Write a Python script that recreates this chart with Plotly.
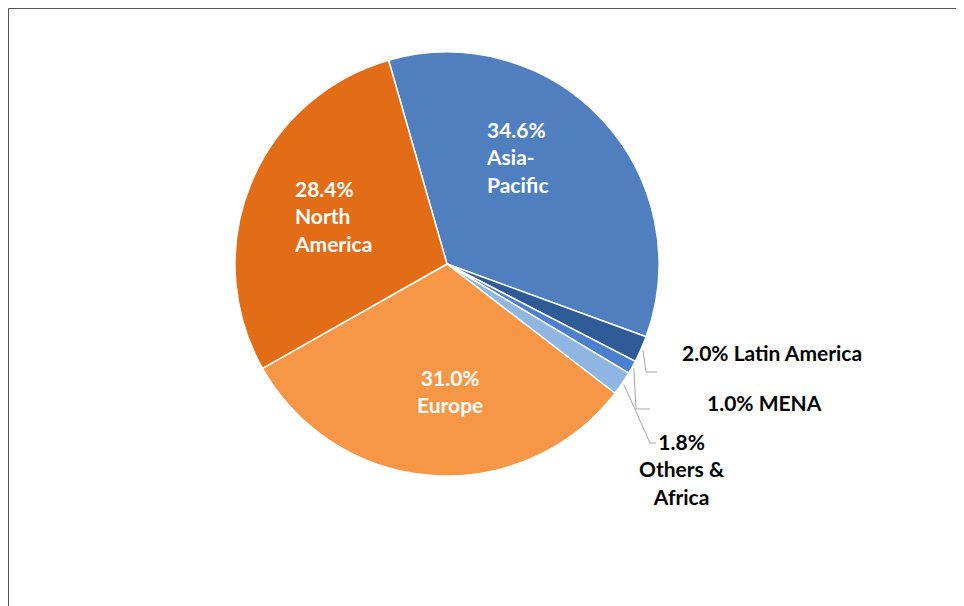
import math
import plotly.graph_objects as go

# ---- data ----
regions = ["Asia-Pacific", "Latin America", "MENA", "Others & Africa", "Europe", "North America"]
shares = [34.6, 2.0, 1.0, 1.8, 31.0, 28.4]
label_texts = [
    "34.6%<br>Asia-<br>Pacific",
    "2.0% Latin America",
    "1.0% MENA",
    "1.8%<br>Others &<br>Africa",
    "31.0%<br>Europe",
    "28.4%<br>North<br>America",
]

# ---- style / layout ----
colors = ["#4F7FBF", "#2F5C97", "#4A80CD", "#8FB5E3", "#F79646", "#E36C17"]
W, H = 964, 606
OFF = 8                      # page body margin
CX, CY, R = 447 - OFF, 264 - OFF, 212
ROT = -16
FONT = "Lato"
FS = 21

# label placement in screen px: (x, y, xanchor, align, color)
label_place = [
    (484, 157, "left", "left", "white"),
    (680, 353, "left", "left", "black"),
    (705, 403, "left", "left", "black"),
    (682, 469, "center", "center", "black"),
    (450, 391, "center", "center", "white"),
    (292, 216, "left", "left", "white"),
]
# leader elbows for outside labels (screen px): index -> [(x,y), (x,y)]
leaders = {
    1: [(646, 372), (657, 372)],
    2: [(636, 409), (650, 409)],
    3: [(650, 443), (656, 443)],
}


def px(x):
    return (x - OFF) / W


def py(y):
    return 1 - (y - OFF) / H


fig = go.Figure(go.Pie(
    labels=regions,
    values=shares,
    text=label_texts,
    textinfo="none",
    marker=dict(colors=colors, line=dict(color="white", width=1.5)),
    sort=False,
    direction="clockwise",
    rotation=ROT,
    domain=dict(x=[(CX - R) / W, (CX + R) / W], y=[1 - (CY + R) / H, 1 - (CY - R) / H]),
    showlegend=False,
    hoverinfo="label+percent",
))

annotations = []
for txt, (x, y, xa, al, col) in zip(label_texts, label_place):
    annotations.append(dict(
        x=px(x), y=py(y), xref="paper", yref="paper",
        text="<b>" + txt + "</b>", showarrow=False,
        xanchor=xa, yanchor="middle", align=al,
        font=dict(family=FONT, size=FS, color=col),
    ))

shapes = [dict(type="rect", xref="paper", yref="paper",
               x0=0.5 / W, x1=1.02, y0=-0.02, y1=1 - 0.5 / H,
               line=dict(color="#555555", width=1))]

total = sum(shares)
cum = 0.0
for i, v in enumerate(shares):
    mid = (cum + v / 2) / total
    cum += v
    if i in leaders:
        ang = math.radians(ROT + mid * 360)
        sx = CX + (R + 2) * math.sin(ang)
        sy = CY - (R + 2) * math.cos(ang)
        pts = [(sx, sy)] + [(x - OFF, y - OFF) for x, y in leaders[i]]
        path = "M " + " L ".join(f"{p[0] / W:.5f},{1 - p[1] / H:.5f}" for p in pts)
        shapes.append(dict(type="path", xref="paper", yref="paper", path=path,
                           line=dict(color="#A6A6A6", width=1)))

fig.update_layout(
    width=W, height=H,
    margin=dict(l=0, r=0, t=0, b=0),
    paper_bgcolor="white",
    font=dict(family=FONT, size=FS),
    annotations=annotations,
    shapes=shapes,
)

fig.write_html("out.html")
